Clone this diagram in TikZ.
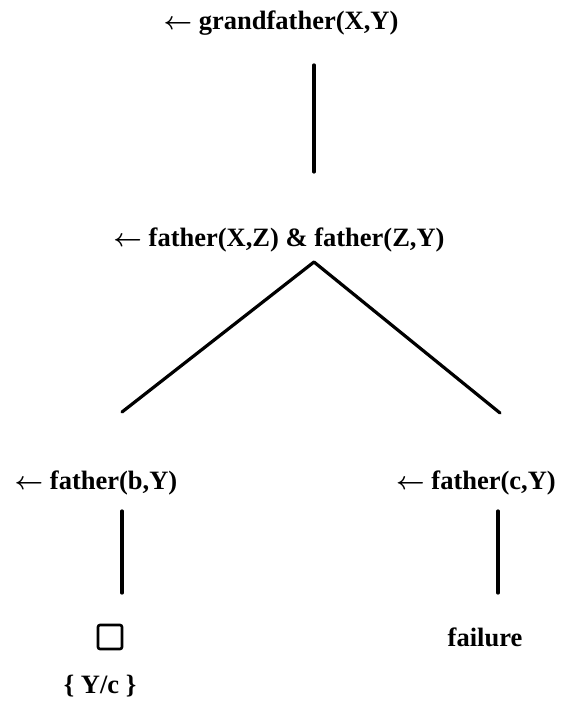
\documentclass[tikz,border=0pt]{standalone}
\usepackage{fontspec}
\setmainfont{Liberation Serif}
\newcommand{\goalarrow}{{\boldmath$\leftarrow$}}
\begin{document}
\begin{tikzpicture}[x=1pt,y=-1pt,
  goal/.style={font=\fontsize{26.5}{30}\selectfont\bfseries, inner sep=0pt, anchor=center},
  edge/.style={line width=3.2pt, line cap=round, line join=round}]
\useasboundingbox (0,0) rectangle (562,708);
% goals of the refutation tree
\node[goal] (g0) at (281,23) {\goalarrow\ grandfather(X,Y)};
\node[goal] (g1) at (279,240) {\goalarrow\ father(X,Z) \& father(Z,Y)};
\node[goal] (g2) at (96,483) {\goalarrow\ father(b,Y)};
\node[goal] (g3) at (476,483) {\goalarrow\ father(c,Y)};
\node[draw, line width=2.6pt, minimum size=24pt, inner sep=0pt, rounded corners=2pt] (empty) at (110,637) {};
\node[goal] (fail) at (485,637) {failure};
\node[goal] (subst) at (100,686) {\{ Y/c \}};
% branch end points
\coordinate (a0) at (314,65);
\coordinate (a1) at (314,172);
\coordinate (apex) at (314,262);
\coordinate (bl) at (122,412);
\coordinate (br) at (500,413);
\coordinate (l0) at (122,511);
\coordinate (l1) at (122,593);
\coordinate (r0) at (498,511);
\coordinate (r1) at (498,593);
\draw[edge] (a0) -- (a1);
\draw[edge] (bl) -- (apex) -- (br);
\draw[edge] (l0) -- (l1);
\draw[edge] (r0) -- (r1);
\end{tikzpicture}
\end{document}
